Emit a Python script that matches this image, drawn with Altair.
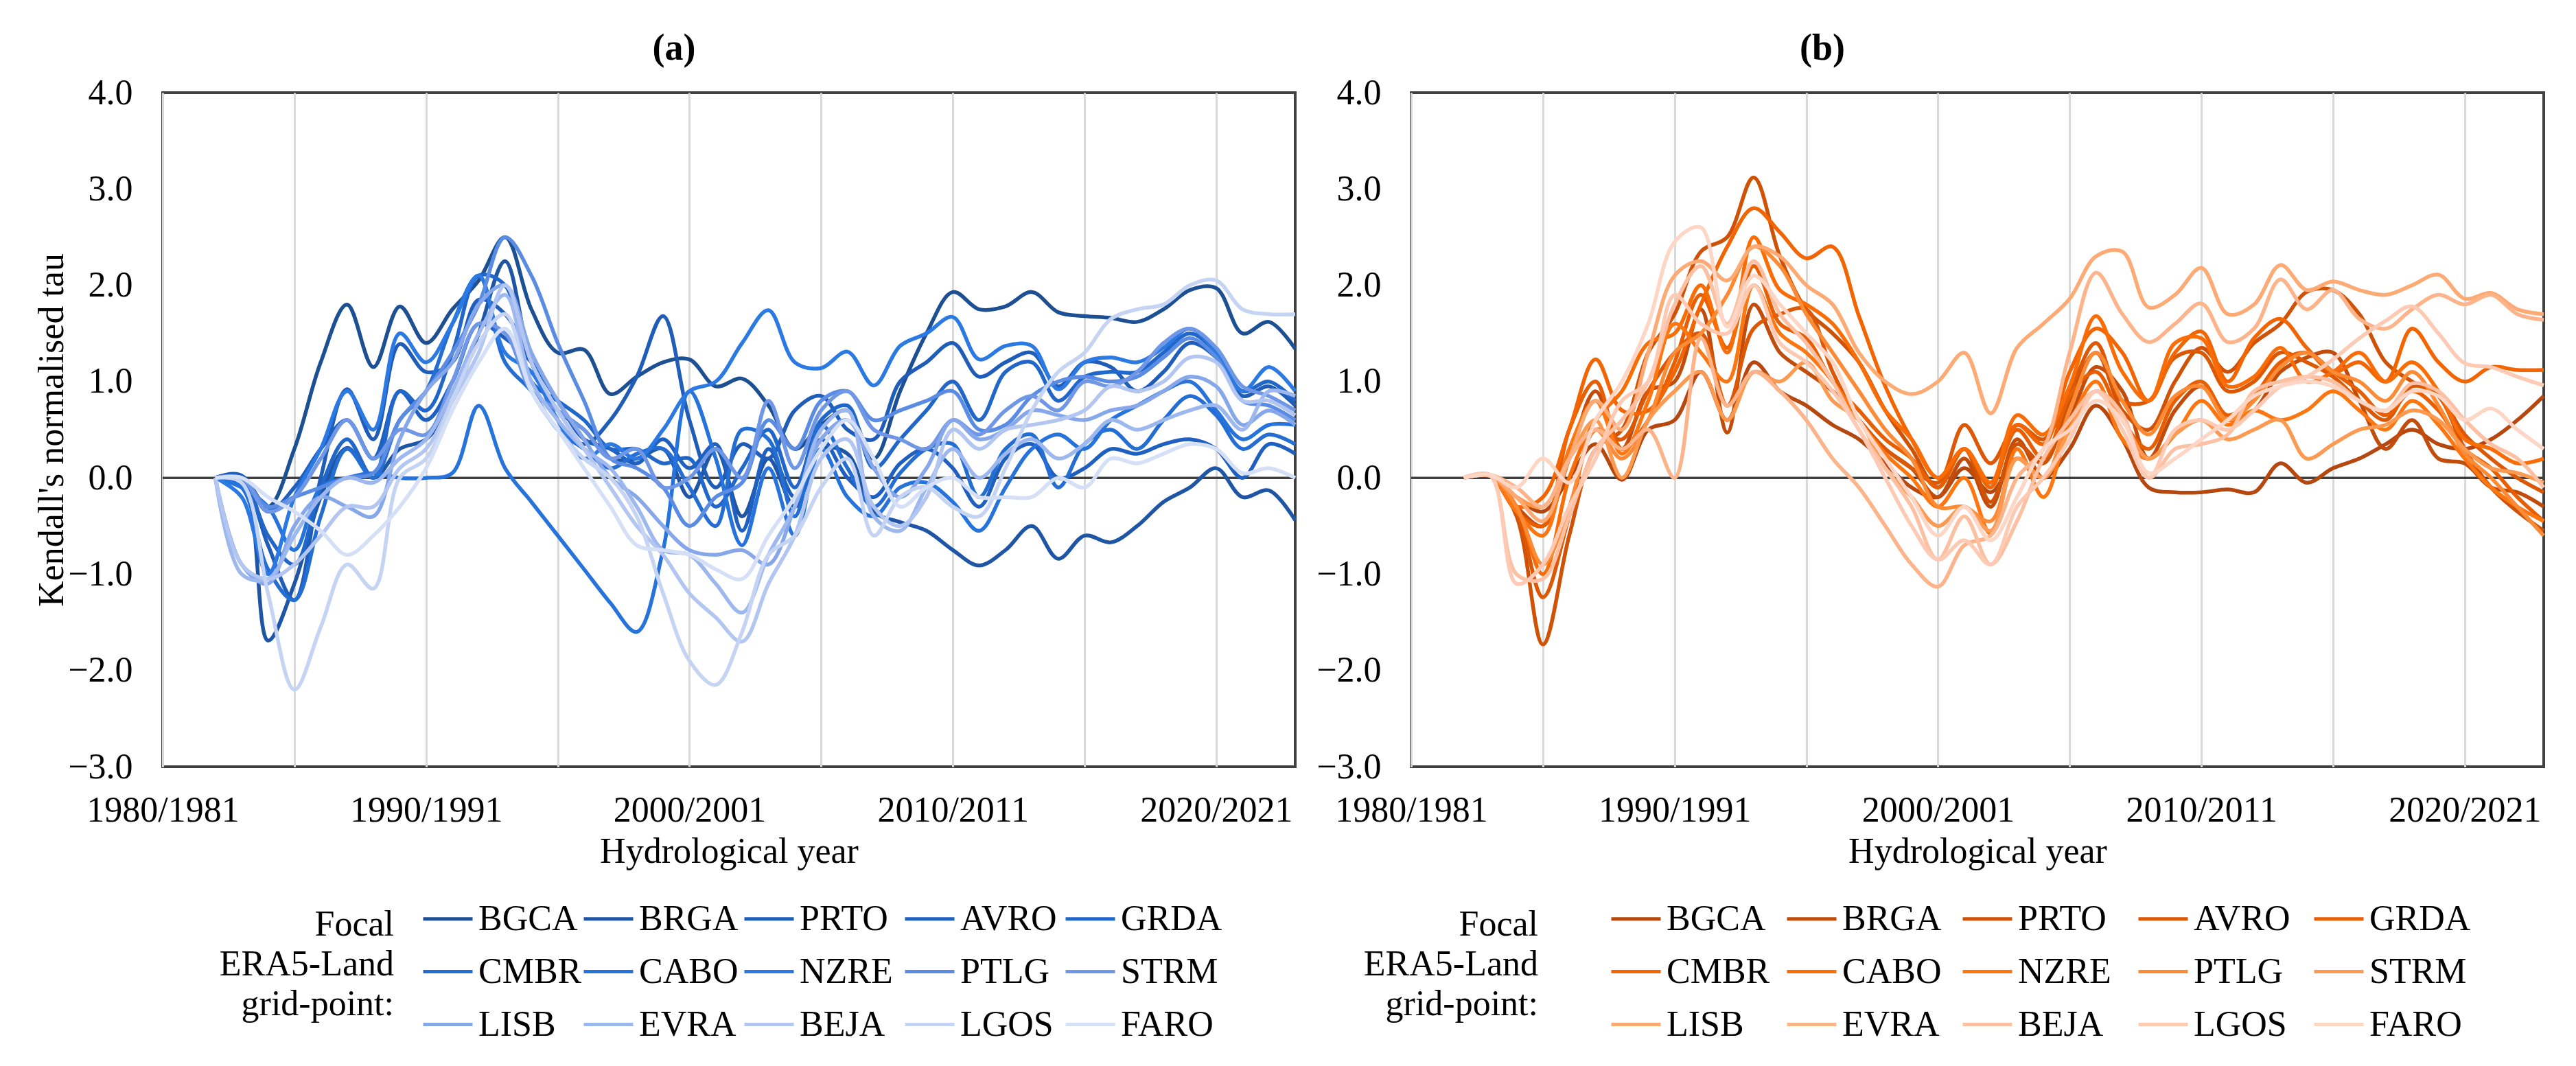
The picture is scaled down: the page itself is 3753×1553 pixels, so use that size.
import altair as alt
import pandas as pd

FONT = "Liberation Serif, Times New Roman, Times, DejaVu Serif, serif"

years = list(range(1982, 2024))
sites = ["BGCA", "BRGA", "PRTO", "AVRO", "GRDA", "CMBR", "CABO", "NZRE",
         "PTLG", "STRM", "LISB", "EVRA", "BEJA", "LGOS", "FARO"]
legend_title = "Focal\nERA5-Land\ngrid-point:"

blues = ["#1d4f93", "#1f55a5", "#1f5db8", "#1f5fbf", "#2166c9", "#236dd3", "#2673dc", "#2b79e2",
         "#5a8ce4", "#7097e6", "#86a7ea", "#9db8ee", "#b2c6f1", "#c6d4f4", "#d5e0f7"]
oranges = ["#b5470f", "#c24c0b", "#cf5207", "#dc5804", "#e85e02", "#f26502", "#fa6d06", "#fe7610",
           "#fd8a35", "#fd9a52", "#fdaa75", "#fdb48b", "#fdc0a2", "#fecab3", "#fed6c6"]

# ---- panel (a) ----
a_BGCA = [0.00, 0.02, -0.30, 0.30, 1.20, 1.80, 1.15, 1.78, 1.40, 1.75,
          2.05, 2.50, 1.75, 1.30, 1.33, 0.87, 1.05, 1.20, 1.23, 0.95,
          1.03, 0.75, 0.30, 0.55, 0.70, 0.20, 0.90, 1.50, 1.93, 1.75,
          1.78, 1.93, 1.72, 1.68, 1.66, 1.62, 1.75, 1.95, 1.97, 1.50,
          1.62, 1.34]
a_BRGA = [0.00, 0.02, -1.69, -1.10, -0.20, 0.31, 0.00, 0.30, 0.40, 0.80,
          1.50, 2.25, 1.20, 0.70, 0.50, 0.20, 0.20, 0.30, -0.20, 0.30,
          -0.40, 0.20, -0.30, 0.30, 0.25, -0.35, -0.46, -0.55, -0.75, -0.91,
          -0.75, -0.50, -0.84, -0.60, -0.67, -0.50, -0.25, -0.10, 0.10, -0.20,
          -0.13, -0.44]
a_PRTO = [0.00, 0.00, -0.70, -1.27, 0.00, 0.92, 0.40, 1.39, 1.10, 1.20,
          1.85, 1.70, 1.20, 0.60, 0.35, 0.60, 1.05, 1.68, 0.60, -0.10,
          0.35, 0.20, 0.70, 0.85, 0.50, 0.40, 1.00, 1.20, 1.40, 1.05,
          1.20, 1.30, 0.95, 1.20, 1.15, 0.90, 1.10, 1.40, 1.25, 0.85,
          0.95, 0.75]
a_AVRO = [0.00, 0.02, -0.35, -0.10, 0.30, 0.60, 0.20, 0.90, 0.60, 1.00,
          1.60, 1.45, 1.20, 0.80, 0.40, 0.30, 0.15, 0.40, 0.10, 0.35,
          -0.55, 0.30, -0.20, 0.40, 0.00, -0.20, 0.15, 0.30, 0.10, -0.30,
          0.20, 0.35, 0.00, 0.10, 0.30, 0.25, 0.35, 0.40, 0.30, 0.00,
          0.35, 0.25]
a_GRDA = [0.00, 0.00, -0.60, -0.90, -0.10, 0.40, 0.00, 0.90, 0.70, 1.30,
          2.10, 2.00, 1.00, 0.80, 0.60, 0.30, 0.30, 0.15, 0.20, -0.30,
          0.10, 0.50, -0.10, 0.60, 0.75, 0.10, 0.40, 0.70, 1.00, 0.60,
          1.10, 1.20, 0.80, 1.05, 1.10, 1.10, 1.30, 1.50, 1.30, 0.90,
          1.00, 0.80]
a_CMBR = [0.00, -0.10, -0.95, -1.27, -0.40, 0.30, 0.00, 0.60, 0.90, 1.60,
          2.10, 1.20, 0.90, 0.50, 0.30, 0.10, 0.25, 0.30, -0.10, -0.50,
          0.50, 0.40, -0.40, 0.55, 0.10, -0.30, 0.05, 0.30, 0.35, -0.20,
          0.30, 0.45, -0.10, 0.35, 0.50, 0.30, 0.60, 0.85, 0.65, 0.30,
          0.45, 0.35]
a_CABO = [0.00, -0.10, -0.30, -0.75, -0.10, 0.00, 0.05, 0.00, 0.00, 0.05,
          0.75, 0.10, -0.25, -0.60, -0.95, -1.30, -1.60, -0.75, 0.90, 0.20,
          -0.70, 0.10, -0.60, 0.30, -0.20, -0.40, -0.10, -0.05, -0.25, -0.55,
          -0.10, 0.30, 0.45, 0.30, 0.60, 0.75, 0.90, 1.00, 0.70, 0.40,
          0.55, 0.55]
a_NZRE = [0.00, -0.20, -1.00, -0.20, 0.30, 0.90, 0.50, 1.50, 1.20, 1.60,
          2.10, 1.30, 1.10, 0.60, 0.20, 0.35, 0.20, 0.50, 0.90, 1.00,
          1.40, 1.74, 1.20, 1.14, 1.31, 0.96, 1.37, 1.50, 1.67, 1.23,
          1.37, 1.37, 0.92, 1.20, 1.25, 1.20, 1.35, 1.55, 1.30, 0.90,
          1.15, 0.90]
a_PTLG = [0.00, 0.00, -0.30, -0.20, -0.10, 0.00, 0.05, 0.60, 0.90, 1.30,
          1.80, 2.50, 2.10, 1.40, 0.80, 0.20, 0.10, -0.10, -0.50, -0.20,
          -0.05, 0.60, 0.30, 0.80, 0.90, 0.60, 0.70, 0.80, 0.90, 0.50,
          0.55, 0.85, 1.00, 1.05, 1.00, 1.05, 1.25, 1.45, 1.25, 0.80,
          0.75, 0.60]
a_STRM = [0.00, 0.00, -0.35, -0.20, 0.20, 0.60, 0.20, 0.50, 0.45, 1.00,
          1.60, 1.50, 0.90, 0.70, 0.50, 0.20, 0.30, -0.10, 0.00, 0.30,
          0.00, 0.80, 0.10, 0.70, 0.90, 0.50, 0.40, 0.30, 0.60, 0.45,
          0.70, 0.85, 0.70, 1.00, 0.95, 1.10, 1.40, 1.55, 1.35, 0.95,
          0.85, 0.70]
a_LISB = [0.00, -0.90, -1.10, -0.50, -0.20, -0.30, -0.40, 0.40, 0.90, 1.20,
          1.80, 2.00, 1.30, 0.80, 0.40, 0.00, -0.20, -0.50, -0.75, -0.80,
          -0.75, -0.90, -0.30, 0.40, 0.60, 0.10, -0.20, 0.10, 0.60, 0.40,
          0.50, 0.70, 0.65, 0.60, 0.70, 0.75, 0.90, 1.05, 0.95, 0.55,
          0.70, 0.55]
a_EVRA = [0.00, -1.00, -1.05, -0.60, -0.20, 0.00, -0.05, 0.20, 0.40, 0.90,
          1.50, 1.90, 1.00, 0.60, 0.30, 0.10, -0.30, -0.75, -0.80, -1.10,
          -1.40, -0.80, -0.30, 0.50, 0.70, -0.40, -0.55, -0.10, 0.30, 0.00,
          0.25, 0.40, 0.20, 0.35, 0.60, 0.50, 0.60, 0.70, 0.75, 0.50,
          0.90, 0.85]
a_BEJA = [0.00, -0.90, -1.05, -0.90, -0.60, -0.30, -0.30, 0.10, 0.30, 0.80,
          1.30, 2.00, 1.20, 0.70, 0.30, -0.10, -0.50, -0.80, -1.20, -1.45,
          -1.70, -1.10, -0.60, 0.20, 0.40, -0.30, -0.50, -0.20, 0.50, 0.30,
          0.50, 0.55, 0.60, 0.70, 0.95, 0.90, 1.00, 1.25, 1.20, 0.80,
          0.80, 0.65]
a_LGOS = [0.00, -0.05, -1.20, -2.20, -1.55, -0.90, -1.15, 0.00, 0.20, 0.80,
          1.40, 1.70, 0.90, 0.50, 0.20, 0.00, -0.40, -1.20, -1.90, -2.15,
          -1.60, -0.80, -0.60, -0.10, 0.20, -0.60, -0.20, -0.10, -0.30, -0.40,
          0.10, 0.70, 1.10, 1.30, 1.65, 1.75, 1.80, 2.00, 2.05, 1.75,
          1.70, 1.70]
a_FARO = [0.00, 0.00, -0.20, -0.35, -0.55, -0.80, -0.60, -0.30, 0.10, 0.70,
          1.20, 1.55, 0.90, 0.50, 0.10, -0.30, -0.70, -0.75, -0.80, -0.95,
          -1.05, -0.60, -0.20, 0.30, 0.60, 0.20, -0.30, -0.10, 0.00, -0.20,
          -0.20, -0.20, 0.00, -0.10, 0.20, 0.15, 0.25, 0.35, 0.30, 0.05,
          0.10, 0.00]

# ---- panel (b) ----
b_BGCA = [0.00, 0.03, -0.20, -0.35, 0.00, 0.35, -0.02, 0.50, 0.60, 1.10,
          0.60, 1.20, 0.90, 0.75, 0.55, 0.40, 0.15, -0.10, -0.20, 0.10,
          -0.15, 0.20, 0.00, 0.30, 0.75, 0.40, -0.10, -0.15, -0.15, -0.12,
          -0.15, 0.15, -0.05, 0.10, 0.20, 0.35, 0.50, 0.35, 0.30, 0.40,
          0.60, 0.85]
b_BRGA = [0.00, 0.03, -0.30, -0.50, 0.20, 0.90, 0.30, 0.90, 1.00, 1.75,
          0.47, 1.80, 1.30, 1.10, 0.90, 0.60, 0.30, 0.10, -0.20, 0.20,
          -0.30, 0.40, 0.00, 0.60, 1.15, 0.90, 0.20, 0.70, 0.95, 0.60,
          0.70, 1.10, 1.25, 1.30, 0.80, 0.30, 0.60, 0.20, 0.15, -0.10,
          -0.15, -0.30]
b_PRTO = [0.00, 0.03, -0.40, -1.73, -0.60, 0.30, 0.50, 1.30, 1.70, 2.35,
          2.50, 3.12, 2.30, 1.75, 1.50, 1.20, 0.70, 0.30, -0.10, 0.30,
          -0.25, 0.35, 0.15, 0.80, 1.30, 0.70, 0.50, 1.00, 1.35, 1.10,
          1.40, 1.60, 1.93, 1.95, 1.70, 1.20, 1.00, 0.85, 0.30, -0.10,
          -0.35, -0.55]
b_AVRO = [0.00, 0.03, -0.35, -1.24, -0.40, 0.50, 0.40, 0.90, 1.30, 1.50,
          0.75, 1.55, 1.70, 1.75, 1.10, 0.60, 0.30, 0.10, -0.05, 0.55,
          0.15, 0.55, 0.40, 0.90, 1.40, 0.80, 0.80, 1.25, 1.30, 0.90,
          1.00, 1.30, 1.20, 1.05, 0.80, 0.60, 0.95, 0.85, 0.45, 0.20,
          0.00, -0.15]
b_GRDA = [0.00, 0.02, -0.35, -0.50, 0.50, 1.00, 0.30, 0.60, 1.20, 1.90,
          1.35, 2.20, 1.60, 1.45, 1.00, 0.70, 0.40, 0.20, -0.10, 0.30,
          -0.05, 0.50, 0.20, 0.85, 1.10, 0.60, 0.30, 0.80, 1.00, 0.65,
          0.85, 1.20, 1.30, 1.10, 0.90, 0.65, 0.90, 0.70, 0.30, 0.10,
          -0.20, -0.45]
b_CMBR = [0.00, 0.03, -0.30, -0.20, 0.50, 1.23, 0.70, 0.70, 1.10, 1.80,
          2.40, 2.80, 2.55, 2.28, 2.40, 1.68, 0.95, 0.40, 0.00, 0.30,
          -0.10, 0.55, 0.35, 1.10, 1.55, 1.30, 0.80, 1.30, 1.52, 1.00,
          1.45, 1.65, 1.35, 1.10, 1.20, 1.00, 1.55, 1.20, 1.00, 1.15,
          1.12, 1.12]
b_CABO = [0.00, 0.03, -0.30, -1.00, 0.00, 0.60, 0.90, 1.40, 1.50, 2.00,
          1.30, 2.50, 1.95, 1.80, 1.60, 1.20, 0.70, 0.40, 0.00, 0.30,
          -0.05, 0.65, 0.45, 0.95, 1.68, 1.10, 0.80, 1.40, 1.45, 0.95,
          1.05, 1.35, 1.00, 1.10, 1.30, 1.00, 1.20, 0.90, 0.40, 0.30,
          0.15, 0.20]
b_NZRE = [0.00, 0.02, -0.35, -0.60, 0.30, 0.80, 0.25, 0.80, 1.60, 1.30,
          1.00, 2.00, 1.50, 1.30, 1.00, 0.60, 0.25, 0.00, -0.30, 0.00,
          -0.58, 0.30, -0.20, 0.55, 1.00, 0.40, 0.20, 0.45, 0.80, 0.55,
          0.70, 0.60, 0.70, 0.90, 0.70, 0.50, 0.80, 0.55, 0.20, -0.10,
          -0.30, -0.45]
b_PTLG = [0.00, 0.03, -0.30, -0.90, -0.30, 0.50, 0.20, 0.60, 1.30, 1.50,
          1.90, 2.40, 2.20, 1.70, 1.30, 0.90, 0.50, 0.20, -0.30, -0.30,
          -0.45, 0.20, 0.00, 0.70, 1.30, 0.80, 0.45, 0.85, 0.95, 0.60,
          0.80, 1.15, 1.30, 1.10, 1.00, 0.80, 1.10, 0.75, 0.25, 0.00,
          -0.30, -0.60]
b_STRM = [0.00, 0.02, -0.20, -0.30, 0.20, 0.60, 0.00, 0.60, 0.90, 1.10,
          0.60, 1.10, 1.00, 1.20, 0.80, 0.60, 0.10, -0.20, -0.50, -0.30,
          -0.55, 0.20, 0.00, 0.50, 0.90, 0.60, 0.20, 0.45, 0.60, 0.40,
          0.50, 0.60, 0.20, 0.35, 0.50, 0.55, 0.70, 0.60, 0.30, 0.10,
          0.05, -0.05]
b_LISB = [0.00, 0.03, -0.20, -0.45, 0.20, 0.80, 0.50, 1.30, 2.10, 2.25,
          2.05, 2.40, 2.30, 2.00, 1.80, 1.30, 1.00, 0.87, 1.00, 1.30,
          0.67, 1.35, 1.60, 1.86, 2.30, 2.35, 1.77, 1.90, 2.18, 1.70,
          1.80, 2.21, 1.95, 2.04, 1.95, 1.90, 2.00, 2.11, 1.86, 1.92,
          1.75, 1.70]
b_EVRA = [0.00, 0.03, -0.10, -0.30, 0.20, 0.50, 0.30, 0.50, 0.00, 1.45,
          0.75, 1.10, 0.90, 0.60, 0.20, -0.10, -0.50, -0.90, -1.13, -0.70,
          -0.60, 0.00, 0.30, 1.30, 2.13, 1.70, 1.41, 1.60, 1.81, 1.41,
          1.55, 2.06, 1.75, 1.95, 1.65, 1.55, 1.75, 1.90, 1.80, 1.90,
          1.70, 1.64]
b_BEJA = [0.00, 0.02, -1.00, -1.05, -0.40, 0.30, 0.60, 1.00, 1.80, 2.20,
          1.60, 2.25, 1.70, 1.40, 1.00, 0.50, 0.10, -0.30, -0.85, -0.40,
          -0.90, -0.45, 0.20, 0.60, 0.90, 0.66, 0.00, 0.30, 0.35, 0.45,
          0.90, 1.00, 1.05, 1.00, 0.80, 0.70, 0.98, 0.90, 0.60, 0.35,
          0.20, -0.10]
b_LGOS = [0.00, 0.03, -1.10, -0.90, -0.30, 0.20, 0.80, 1.00, 1.90, 1.60,
          1.50, 2.00, 1.40, 1.20, 0.90, 0.50, 0.00, -0.50, -0.85, -0.65,
          -0.90, -0.30, 0.00, 0.40, 0.90, 0.50, 0.00, 0.50, 0.60, 0.50,
          0.70, 0.95, 1.05, 1.23, 1.45, 1.63, 1.78, 1.50, 1.19, 1.15,
          1.05, 0.96]
b_FARO = [0.00, 0.03, -0.10, 0.20, -0.05, 0.60, 1.00, 1.60, 2.45, 2.60,
          1.57, 2.10, 1.80, 1.50, 1.20, 0.60, 0.20, -0.20, -0.60, -0.30,
          -0.65, -0.20, 0.30, 0.50, 0.80, 0.60, 0.05, 0.20, 0.40, 0.60,
          0.85, 0.95, 1.00, 0.95, 0.80, 0.70, 0.90, 0.85, 0.60, 0.72,
          0.50, 0.30]

a_values = [a_BGCA, a_BRGA, a_PRTO, a_AVRO, a_GRDA, a_CMBR, a_CABO, a_NZRE,
            a_PTLG, a_STRM, a_LISB, a_EVRA, a_BEJA, a_LGOS, a_FARO]
b_values = [b_BGCA, b_BRGA, b_PRTO, b_AVRO, b_GRDA, b_CMBR, b_CABO, b_NZRE,
            b_PTLG, b_STRM, b_LISB, b_EVRA, b_BEJA, b_LGOS, b_FARO]


def long_df(values):
    rows = []
    for s, vals in zip(sites, values):
        assert len(vals) == len(years), s
        for yr, v in zip(years, vals):
            rows.append({"Year": yr, "Value": v, "Site": s})
    return pd.DataFrame(rows)


LABEL_EXPR = "datum.value % 10 === 0 ? datum.value + '/' + (datum.value + 1) : ''"


def panel(values, colors, label, title_dx, legend_x, col_pad, ltitle_x, y_title):
    df = long_df(values)
    x_axis = alt.Axis(values=list(range(1980, 2024, 5)), labelExpr=LABEL_EXPR,
                      title="Hydrological year", labelPadding=38, titlePadding=9,
                      labelFlush=False, labelOverlap=False, labelLimit=500,
                      labelFont=FONT, titleFont=FONT)
    if y_title:
        y_axis = alt.Axis(values=[-3, -2, -1, 0, 1, 2, 3, 4], format=".1f",
                          title=y_title, labelPadding=44, titlePadding=-4, titleLimit=1200,
                          labelFont=FONT, titleFont=FONT)
    else:
        y_axis = alt.Axis(values=[-3, -2, -1, 0, 1, 2, 3, 4], format=".1f",
                          title=None, labelPadding=44, labelFont=FONT)
    legend = alt.Legend(
        orient="none", legendX=legend_x, legendY=1165, direction="horizontal", columns=5,
        title=None,
        labelFont=FONT, labelFontSize=52, labelColor="black", labelOffset=6, labelLimit=400,
        symbolType="stroke", symbolSize=5184, symbolStrokeWidth=5,
        gridAlign="all", columnPadding=col_pad, rowPadding=12, padding=0,
    )
    zero = alt.Chart(pd.DataFrame({"z": [0]})).mark_rule(
        color="#404040", strokeWidth=3.5).encode(y=alt.datum(0))
    lines = alt.Chart(df).mark_line(interpolate="catmull-rom", strokeWidth=5.5,
                                    strokeJoin="round").encode(
        x=alt.X("Year:Q", scale=alt.Scale(domain=[1980, 2023], nice=False, zero=False), axis=x_axis),
        y=alt.Y("Value:Q", scale=alt.Scale(domain=[-3, 4], nice=False, zero=False), axis=y_axis),
        color=alt.Color("Site:N", scale=alt.Scale(domain=sites, range=colors), legend=legend),
    )
    ltitle = alt.Chart(pd.DataFrame({"t": [legend_title]})).mark_text(
        align="right", baseline="top", lineBreak="\n", font=FONT, fontSize=52,
        lineHeight=58, color="black",
    ).encode(text="t:N", x=alt.value(ltitle_x), y=alt.value(1187))
    return alt.layer(zero, lines, ltitle).properties(
        width=1650, height=982,
        title=alt.TitleParams(label, font=FONT, fontSize=54, fontWeight="bold", color="black",
                              anchor="middle", dx=title_dx, offset=11),
    )


pa = panel(a_values, blues, "(a)", -80, 377, -37, 337, "Kendall's normalised tau")
pb = panel(b_values, oranges, "(b)", -226, 289, 14, 185, None)

chart = alt.hconcat(pa, pb, spacing=23).resolve_scale(color="independent").properties(
    padding={"left": 39, "top": 34, "right": 5, "bottom": 5}, background="white"
).configure_view(stroke="#404040", strokeWidth=4).configure_axis(
    labelFont=FONT, labelFontSize=52, labelColor="black",
    titleFont=FONT, titleFontSize=52, titleFontWeight="normal", titleColor="black",
    gridColor="#d9d9d9", gridWidth=3, domain=False, ticks=False, tickSize=0,
)

chart.save("out.html", embed_options={"renderer": "svg", "actions": False})
